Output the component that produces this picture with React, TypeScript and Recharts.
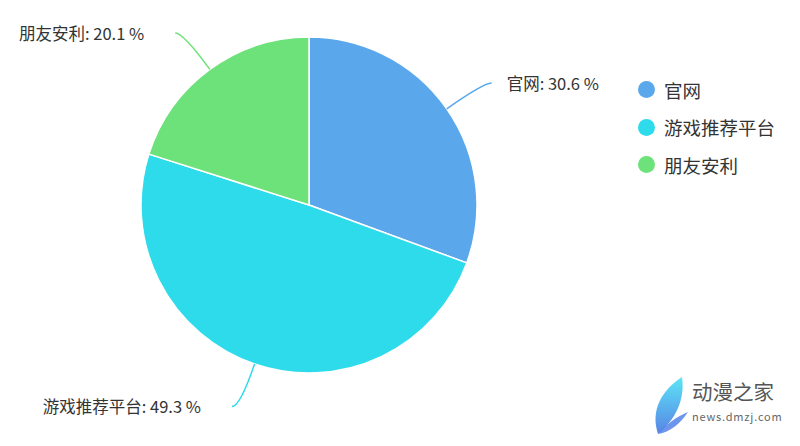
import { PieChart, Pie, Cell, Legend } from 'recharts';

const names = ['官网', '游戏推荐平台', '朋友安利'];
const values = [30.6, 49.3, 20.1];
const colors = ['#5aa8eb', '#2edbeb', '#6ee27a'];

const data = names.map((n, i) => ({ name: n, value: values[i] }));

const FONT = '"Noto Sans CJK SC", "Noto Sans", sans-serif';
const RAD = Math.PI / 180;

// 带弯曲引导线的标签
function renderLabel(props: any) {
  const { cx, cy, midAngle, outerRadius, percent, name, index } = props;
  const cos = Math.cos(-midAngle * RAD);
  const sin = Math.sin(-midAngle * RAD);
  const sx = cx + outerRadius * cos;
  const sy = cy + outerRadius * sin;
  const mx = cx + (outerRadius + 45) * cos;
  const my = cy + (outerRadius + 45) * sin;
  const right = cos >= 0;
  const ex = mx + (right ? 8 : -8);
  const ey = my;
  const tx = ex + (right ? 15 : -31);
  return (
    <g>
      <path
        d={`M${sx},${sy} Q${mx},${my} ${ex},${ey}`}
        stroke={colors[index]}
        strokeWidth={1.5}
        fill="none"
      />
      <text
        x={tx}
        y={ey + 2}
        textAnchor={right ? 'start' : 'end'}
        dominantBaseline="middle"
        fontSize={16.5}
        fontFamily={FONT}
        fill="#333"
      >
        {`${name}: ${(percent * 100).toFixed(1)} %`}
      </text>
    </g>
  );
}

function LegendBox() {
  return (
    <div style={{ fontFamily: FONT }}>
      {data.map((d, i) => (
        <div key={d.name} style={{ display: 'flex', alignItems: 'center', height: 37.5 }}>
          <span
            style={{
              width: 17,
              height: 17,
              borderRadius: '50%',
              background: colors[i],
              display: 'inline-block',
              marginRight: 9,
            }}
          />
          <span style={{ fontSize: 18.5, color: '#333' }}>{d.name}</span>
        </div>
      ))}
    </div>
  );
}

export default function App() {
  return (
    <div style={{ position: 'fixed', left: 0, top: 0, width: 800, height: 446, background: '#fff' }}>
      <PieChart width={800} height={446} margin={{ top: 0, right: 0, bottom: 0, left: 0 }}>
        <Pie
          data={data}
          dataKey="value"
          nameKey="name"
          cx={309}
          cy={205}
          outerRadius={168}
          startAngle={90}
          endAngle={-270}
          stroke="#fff"
          strokeWidth={1.5}
          label={renderLabel}
          labelLine={false}
          isAnimationActive={false}
        >
          {data.map((d, i) => (
            <Cell key={d.name} fill={colors[i]} />
          ))}
        </Pie>
        <Legend
          content={<LegendBox />}
          wrapperStyle={{ position: 'absolute', left: 638, top: 71, width: 160 }}
        />
      </PieChart>
      <svg width={800} height={446} style={{ position: 'absolute', left: 0, top: 0, pointerEvents: 'none' }}>
        <defs>
          <linearGradient id="wm" x1="0" y1="0" x2="0" y2="1">
            <stop offset="0%" stopColor="#3ee0f5" />
            <stop offset="100%" stopColor="#3b6fe0" />
          </linearGradient>
        </defs>
        <path d="M682,377 C662,390 650,410 658,434 C670,424 686,405 682,377 Z" fill="url(#wm)" opacity={0.85} />
        <path d="M658,434 C666,424 678,416 688,412 C680,424 670,432 658,434 Z" fill="#4a7ae8" opacity={0.8} />
        <text x={692} y={400} fontSize={20.5} fontFamily={FONT} fill="#555">动漫之家</text>
        <text x={692} y={421} fontSize={11} fontFamily={FONT} fill="#666" letterSpacing={0.8}>news.dmzj.com</text>
      </svg>
    </div>
  );
}
